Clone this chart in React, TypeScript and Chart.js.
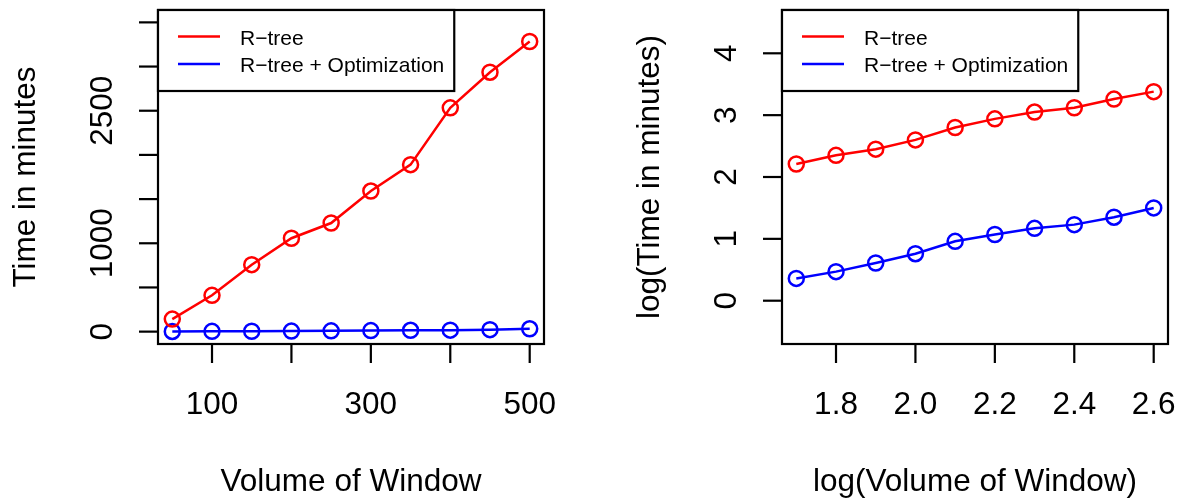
import React, { useEffect, useRef } from "react";
import { Chart, registerables } from "chart.js";

Chart.register(...registerables);

// ---- data ----
const windowVolume = [50, 100, 150, 200, 250, 300, 350, 400, 450, 500];
const rtreeMinutes = [142, 411, 758, 1057, 1229, 1591, 1890, 2533, 2936, 3284];
const rtreeOptMinutes = [2, 3, 4, 6, 9, 12, 15, 17, 22, 32];

const logWindowVolume = [1.7, 1.8, 1.9, 2.0, 2.1, 2.2, 2.3, 2.4, 2.5, 2.6];
const logRtreeMinutes = [2.21, 2.35, 2.45, 2.6, 2.8, 2.94, 3.05, 3.12, 3.26, 3.38];
const logRtreeOptMinutes = [0.36, 0.47, 0.61, 0.76, 0.96, 1.07, 1.17, 1.23, 1.35, 1.5];

const seriesNames = ["R\u2212tree", "R\u2212tree + Optimization"];
const seriesColors = ["#FF0000", "#0000FF"];

const leftXTicks = [100, 200, 300, 400, 500];
const leftXTickLabels = ["100", "", "300", "", "500"];
const leftYTicks = [0, 500, 1000, 1500, 2000, 2500, 3000, 3500];
const leftYTickLabels = ["0", "", "1000", "", "", "2500", "", ""];

const rightXTicks = [1.8, 2.0, 2.2, 2.4, 2.6];
const rightXTickLabels = ["1.8", "2.0", "2.2", "2.4", "2.6"];
const rightYTicks = [0, 1, 2, 3, 4];
const rightYTickLabels = ["0", "1", "2", "3", "4"];

const FONT = '"Liberation Sans", Arial, Helvetica, sans-serif';

type PanelCfg = {
  xs: number[];
  a: number[];
  b: number[];
  xMin: number;
  xMax: number;
  yMin: number;
  yMax: number;
  xTicks: number[];
  xTickLabels: string[];
  yTicks: number[];
  yTickLabels: string[];
  xTitle: string;
  yTitle: string;
  padding: { left: number; right: number; top: number; bottom: number };
};

const rAxesPlugin = {
  id: "rAxes",
  afterDatasetsDraw(chart: any, _args: any, opts: any) {
    const ctx = chart.ctx as CanvasRenderingContext2D;
    const { left, right, top, bottom } = chart.chartArea;
    const xs = chart.scales.x;
    const ys = chart.scales.y;
    ctx.save();
    ctx.strokeStyle = "#000";
    ctx.fillStyle = "#000";
    ctx.lineWidth = 2.2;
    // box
    ctx.strokeRect(left, top, right - left, bottom - top);
    // x ticks
    ctx.font = `31.5px ${FONT}`;
    ctx.textAlign = "center";
    ctx.textBaseline = "alphabetic";
    opts.xTicks.forEach((v: number, i: number) => {
      const px = xs.getPixelForValue(v);
      ctx.beginPath();
      ctx.moveTo(px, bottom);
      ctx.lineTo(px, bottom + 19);
      ctx.stroke();
      const lab = opts.xTickLabels[i];
      if (lab) ctx.fillText(lab, px, bottom + 70);
    });
    // y ticks
    opts.yTicks.forEach((v: number, i: number) => {
      const py = ys.getPixelForValue(v);
      ctx.beginPath();
      ctx.moveTo(left - 19, py);
      ctx.lineTo(left, py);
      ctx.stroke();
      const lab = opts.yTickLabels[i];
      if (lab) {
        ctx.save();
        ctx.translate(left - 46, py);
        ctx.rotate(-Math.PI / 2);
        ctx.fillText(lab, 0, 0);
        ctx.restore();
      }
    });
    // titles
    ctx.fillText(opts.xTitle, (left + right) / 2, bottom + 147);
    ctx.save();
    ctx.translate(left - 123, (top + bottom) / 2);
    ctx.rotate(-Math.PI / 2);
    ctx.fillText(opts.yTitle, 0, 0);
    ctx.restore();

    // legend
    ctx.font = `21px ${FONT}`;
    ctx.textAlign = "left";
    const textX = 82;
    const widest = Math.max(...opts.names.map((n: string) => ctx.measureText(n).width));
    const boxW = textX + widest + 10;
    const boxH = 81;
    ctx.fillStyle = "#fff";
    ctx.fillRect(left, top, boxW, boxH);
    ctx.strokeStyle = "#000";
    ctx.lineWidth = 2.2;
    ctx.strokeRect(left, top, boxW, boxH);
    opts.names.forEach((n: string, i: number) => {
      const ly = top + 26.5 + i * 27.5;
      ctx.strokeStyle = opts.colors[i];
      ctx.lineWidth = 2.5;
      ctx.beginPath();
      ctx.moveTo(left + 20, ly);
      ctx.lineTo(left + 62, ly);
      ctx.stroke();
      ctx.fillStyle = "#000";
      ctx.fillText(n, left + textX, ly + 8);
    });
    ctx.restore();
  },
};

function Panel({ cfg, width, height }: { cfg: PanelCfg; width: number; height: number }) {
  const ref = useRef<HTMLCanvasElement | null>(null);
  useEffect(() => {
    if (!ref.current) return;
    const mk = (ys: number[]) => cfg.xs.map((x, i) => ({ x, y: ys[i] }));
    const ds = (label: string, color: string, data: any) => ({
      label,
      data,
      borderColor: color,
      backgroundColor: "rgba(0,0,0,0)",
      borderWidth: 2.5,
      pointRadius: 7.5,
      pointBorderWidth: 2.5,
      pointBackgroundColor: "rgba(0,0,0,0)",
      pointBorderColor: color,
      pointStyle: "circle",
      tension: 0,
      fill: false,
      clip: false,
    });
    const chart = new Chart(ref.current, {
      type: "line",
      data: {
        datasets: [
          ds(seriesNames[0], seriesColors[0], mk(cfg.a)),
          ds(seriesNames[1], seriesColors[1], mk(cfg.b)),
        ],
      },
      options: {
        responsive: false,
        animation: false,
        devicePixelRatio: 1,
        layout: { padding: cfg.padding },
        scales: {
          x: { type: "linear", min: cfg.xMin, max: cfg.xMax, display: false },
          y: { type: "linear", min: cfg.yMin, max: cfg.yMax, display: false },
        },
        plugins: {
          legend: { display: false },
          tooltip: { enabled: false },
          rAxes: {
            xTicks: cfg.xTicks,
            xTickLabels: cfg.xTickLabels,
            yTicks: cfg.yTicks,
            yTickLabels: cfg.yTickLabels,
            xTitle: cfg.xTitle,
            yTitle: cfg.yTitle,
            names: seriesNames,
            colors: seriesColors,
          },
        } as any,
      },
      plugins: [rAxesPlugin],
    } as any);
    return () => chart.destroy();
  }, [cfg]);
  return <canvas ref={ref} width={width} height={height} style={{ display: "block", width, height }} />;
}

const leftCfg: PanelCfg = {
  xs: windowVolume,
  a: rtreeMinutes,
  b: rtreeOptMinutes,
  xMin: 32,
  xMax: 518,
  yMin: -140,
  yMax: 3640,
  xTicks: leftXTicks,
  xTickLabels: leftXTickLabels,
  yTicks: leftYTicks,
  yTickLabels: leftYTickLabels,
  xTitle: "Volume of Window",
  yTitle: "Time in minutes",
  padding: { left: 158, right: 46, top: 7, bottom: 158 },
};

const rightCfg: PanelCfg = {
  xs: logWindowVolume,
  a: logRtreeMinutes,
  b: logRtreeOptMinutes,
  xMin: 1.664,
  xMax: 2.636,
  yMin: -0.7,
  yMax: 4.7,
  xTicks: rightXTicks,
  xTickLabels: rightXTickLabels,
  yTicks: rightYTicks,
  yTickLabels: rightYTickLabels,
  xTitle: "log(Volume of Window)",
  yTitle: "log(Time in minutes)",
  padding: { left: 192, right: 13, top: 7, bottom: 158 },
};

export default function App() {
  return (
    <div
      style={{
        position: "fixed",
        left: 0,
        top: 0,
        width: 1181,
        height: 502,
        background: "#fff",
        display: "flex",
      }}
    >
      <Panel cfg={leftCfg} width={590} height={502} />
      <Panel cfg={rightCfg} width={591} height={502} />
    </div>
  );
}
